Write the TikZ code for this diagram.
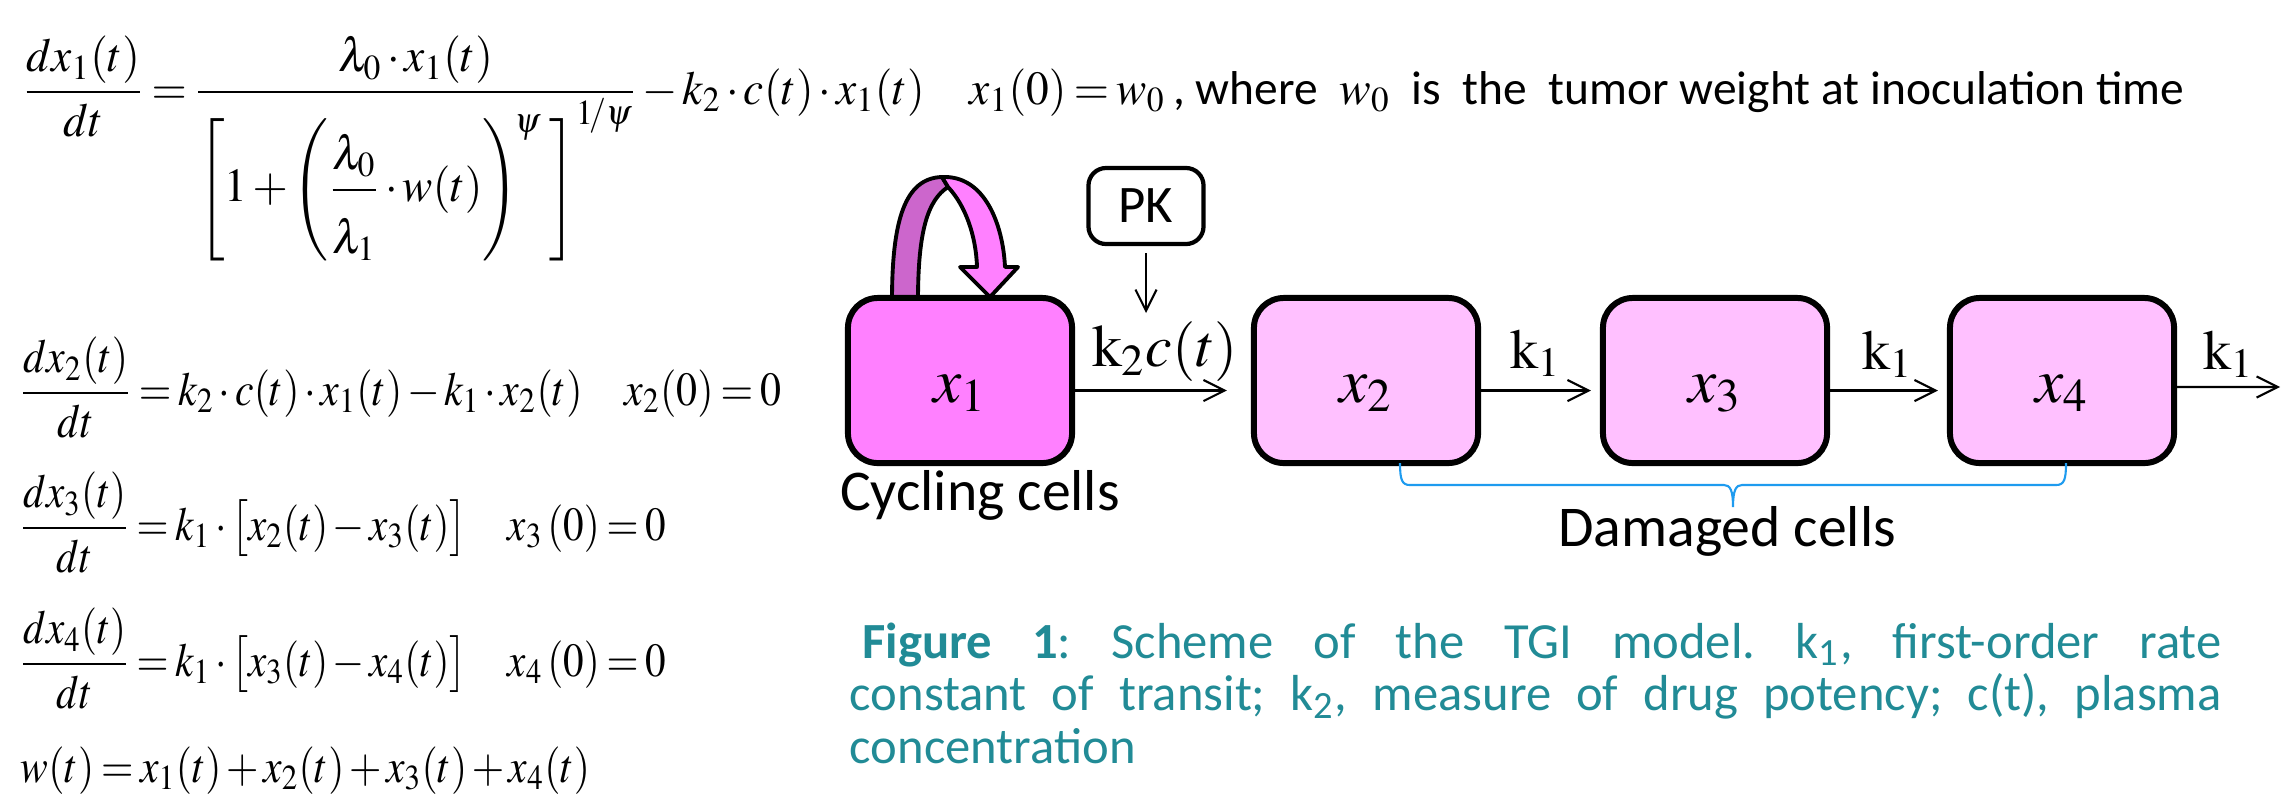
\documentclass[tikz,border=0pt]{standalone}
\usepackage{amsmath}
\usepackage{graphicx}
\usepackage{mathptmx}
\usepackage[no-math]{fontspec}
\setmainfont{Carlito}
\usetikzlibrary{arrows.meta}
\definecolor{cyc}{HTML}{FF80FF}
\definecolor{dam}{HTML}{FFC0FF}
\definecolor{backband}{HTML}{CC66CC}
\definecolor{bracec}{HTML}{1E9BEF}
\definecolor{capc}{HTML}{218B96}
\newcommand{\eqsp}{\thickmuskip=3mu\relax\medmuskip=2mu\relax}
\tikzset{
  cellbox/.style={draw, line width=1.7pt, rounded corners=8.5pt, minimum width=2.24cm, minimum height=1.65cm, inner sep=0pt},
  xlbl/.style={anchor=base, inner sep=0pt, font=\fontsize{18}{20}\selectfont},
  klbl/.style={anchor=base, inner sep=0pt, font=\fontsize{16}{18}\selectfont},
  flow/.style={line width=0.6pt, -{Straight Barb[length=6pt,width=6pt,line width=0.6pt]}},
  eqn/.style={anchor=base west, inner sep=0pt, font=\fontsize{13.5}{16}\selectfont},
  celltxt/.style={anchor=base, inner sep=0pt, font=\fontsize{16.4}{19}\selectfont},
  pkbox/.style={draw, line width=1.2pt, rounded corners=5pt, minimum width=1.15cm, minimum height=0.76cm, inner sep=0pt, font=\fontsize{15}{18}\selectfont},
  capt/.style={anchor=north west, inner sep=0pt, text width=13.71cm, align=justify, text=capc, font=\fontsize{14.4}{14.9}\selectfont}
}
\begin{document}
\begin{tikzpicture}[x=0.01cm,y=-0.01cm]
\useasboundingbox (0,0) rectangle (2282,796);

% equations
\node[eqn] (e1) at (22,104) {\resizebox{11.42cm}{\height}{$\eqsp\displaystyle \frac{dx_1(t)}{dt}=\frac{\lambda_0\cdot x_1(t)}{\left[\rule{0pt}{1.9em}1+\left(\dfrac{\lambda_0}{\rule{0pt}{1.2em}\lambda_1}\cdot w(t)\right)^{\!\psi}\;\right]^{1\!/\psi}}-k_2\cdot c(t)\cdot x_1(t)\quad x_1(0)=w_0$}\,, where\ \ $w_0$\ \ is\ \ the\ \ tumor weight at inoculation time};
\node[eqn] (e2) at (19,405) {\resizebox{7.61cm}{\height}{$\eqsp\displaystyle \frac{dx_2(t)}{dt}=k_2\cdot c(t)\cdot x_1(t)-k_1\cdot x_2(t)\quad x_2(0)=0$}};
\node[eqn] (e3) at (19,540) {\resizebox{6.46cm}{\height}{$\eqsp\displaystyle \frac{dx_3(t)}{dt}=k_1\cdot\bigl[x_2(t)-x_3(t)\bigr]\quad x_3\,(0)=0$}};
\node[eqn] (e4) at (19,676) {\resizebox{6.46cm}{\height}{$\eqsp\displaystyle \frac{dx_4(t)}{dt}=k_1\cdot\bigl[x_3(t)-x_4(t)\bigr]\quad x_4\,(0)=0$}};
\node[eqn] (e5) at (20,782) {\resizebox{5.69cm}{\height}{$\eqsp w(t)=x_1(t)+x_2(t)+x_3(t)+x_4(t)$}};

% self-loop (growth) arrow
\filldraw[fill=backband, line width=1.1pt, line join=round]
  (892,300) .. controls (892,220) and (905,178) .. (942,177) -- (948,187)
  .. controls (928,200) and (918,230) .. (918,300) -- cycle;
\filldraw[fill=cyc, line width=1.1pt, line join=round]
  (942,177) .. controls (985,175) and (1003,225) .. (1005,267) -- (1018,267) -- (990,297) -- (960,267) -- (977,267)
  .. controls (976,235) and (965,205) .. (948,187) -- cycle;

% compartments
\node[cellbox, fill=cyc] (x1) at (960,380.5) {};
\node[cellbox, fill=dam] (x2) at (1366,380.5) {};
\node[cellbox, fill=dam] (x3) at (1715,380.5) {};
\node[cellbox, fill=dam] (x4) at (2062,380.5) {};
\node[xlbl] (l1) at (960,402) {$x_1$};
\node[xlbl] (l2) at (1366,402) {$x_2$};
\node[xlbl] (l3) at (1715,402) {$x_3$};
\node[xlbl] (l4) at (2062,402) {$x_4$};

% PK
\node[pkbox] (pk) at (1146,206) {PK};
\coordinate (pkend) at (1146,313);
\draw[flow, shorten <=0.07cm] (pk.south) -- (pkend);

% transfer arrows
\coordinate (outend) at (2280,387);
\draw[flow, shorten >=0.24cm] ([yshift=-0.1cm]x1.east) -- ([yshift=-0.1cm]x2.west);
\draw[flow, shorten >=0.09cm] ([yshift=-0.1cm]x2.east) -- ([yshift=-0.1cm]x3.west);
\draw[flow, shorten >=0.09cm] ([yshift=-0.1cm]x3.east) -- ([yshift=-0.1cm]x4.west);
\draw[flow] ([yshift=-0.065cm]x4.east) -- (outend);
\node[klbl, font=\fontsize{17}{19}\selectfont] (kc) at (1165,366) {$\mathrm{k}_2c(t)$};
\node[klbl] (k1a) at (1536,368) {$\mathrm{k}_1$};
\node[klbl] (k1b) at (1888,369) {$\mathrm{k}_1$};
\node[klbl] (k1c) at (2229,369) {$\mathrm{k}_1$};

% labels
\node[celltxt] (cyctxt) at (980,510) {Cycling cells};
\draw[bracec, line width=0.6pt] (1400,463) .. controls (1400,480) and (1402,485) .. (1410,485) -- (1724,485)
  .. controls (1730,485) and (1733,490) .. (1733,507) .. controls (1733,490) and (1736,485) .. (1742,485)
  -- (2056,485) .. controls (2064,485) and (2066,480) .. (2066,463);
\node[celltxt] (damtxt) at (1727,546) {Damaged cells};

% caption
\node[capt] (cap) at (849,622) {\frenchspacing\hyphenpenalty=10000\tolerance=9999\hspace*{0.25em}\textbf{Figure 1}: Scheme of the TGI model. k\textsubscript{1}, first-order rate\linebreak constant of transit; k\textsubscript{2}, measure of drug potency; c(t), plasma\linebreak concentration};
\end{tikzpicture}
\end{document}
